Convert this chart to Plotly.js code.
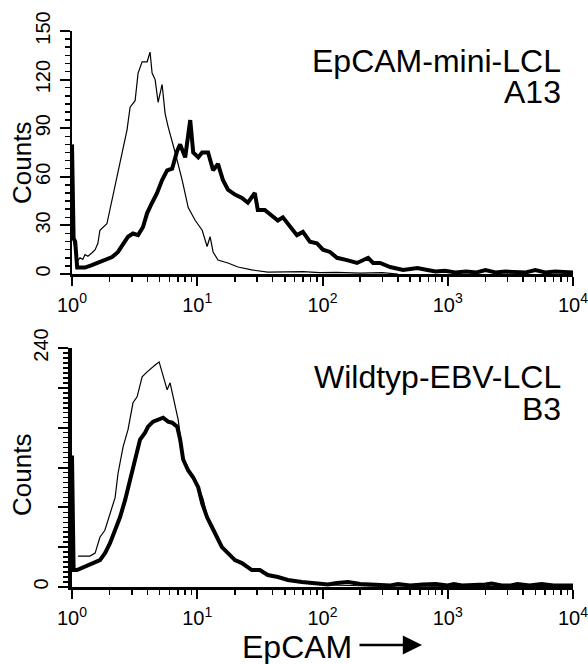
<!DOCTYPE html>
<html>
<head>
<meta charset="utf-8">
<script src="https://cdn.plot.ly/plotly-3.0.1.min.js"></script>
<style>
  html, body { margin: 0; padding: 0; background: #fff; }
  #chart { width: 588px; height: 664px; }
</style>
</head>
<body>
<div id="chart"></div>
<script>
// ---------- Data ----------
// Top panel: EpCAM-mini-LCL A13
const topCtrlX = [1.02, 1.10, 1.16, 1.22, 1.27, 1.34, 1.44, 1.53, 1.61, 1.67, 1.90, 2.09, 2.29, 2.51, 2.75, 2.91, 3.19, 3.37, 3.63, 3.98, 4.20, 4.36, 4.61, 4.87, 5.24, 5.54, 5.85, 6.66, 7.58, 8.47, 9.64, 10.95, 11.98, 12.66, 13.38, 14.64, 17.58, 21.13, 27.26, 36.57, 52.9, 70, 95, 130, 200, 300, 400];
const topCtrlY = [22, 8, 10, 9, 12, 11, 13, 15, 19, 27, 31, 46, 60, 75, 89, 103, 107, 124, 131, 131, 137, 124, 120, 106, 117, 99, 91, 75, 58, 41, 33, 27, 17, 23, 13.6, 8.6, 6.8, 4.3, 2.5, 1.2, 1.2, 1.5, 0.8, 1, 0.5, 0.8, 0];

const topEpX = [1.0, 1.03, 1.06, 1.10, 1.16, 1.27, 1.44, 1.61, 1.83, 2.09, 2.33, 2.56, 2.80, 3.07, 3.37, 3.69, 3.98, 4.36, 4.78, 5.24, 5.75, 6.30, 6.91, 7.30, 8.01, 8.79, 9.29, 10.19, 10.95, 12.20, 13.38, 14.64, 16.03, 17.58, 19.99, 22.73, 25.36, 28.81, 30.45, 34.60, 39.36, 44.01, 48.27, 54.92, 62.47, 69.73, 79.32, 90.21, 100.8, 114.7, 130.5, 156.9, 188.7, 231.3, 253.6, 288.4, 346.7, 440.6, 571.8, 688.3, 800, 950, 1150, 1400, 1700, 2000, 2400, 2900, 3500, 4200, 5000, 6000, 7200, 8500, 10000];
const topEpY = [80, 22, 20, 4, 4, 4, 5.5, 6.8, 8.6, 10.5, 13.6, 17.9, 23, 25, 24, 29, 37.6, 44, 50, 58, 64, 65, 76, 80, 72, 95, 75, 72, 75, 75, 64, 68, 58, 52, 49, 47, 44, 50, 39.5, 39.5, 36, 33, 35, 29, 24, 26, 20, 19, 15, 13.6, 10, 8.6, 6.8, 10, 6.8, 6.8, 4.3, 2.5, 3.7, 2.5, 1.5, 2, 1, 1.5, 1, 2.5, 1, 1.5, 1, 1, 2.5, 1, 1.5, 1, 1];

// Bottom panel: Wildtyp-EBV-LCL B3
const botCtrlX = [1.117, 1.27, 1.39, 1.53, 1.61, 1.67, 1.83, 2.01, 2.21, 2.33, 2.56, 2.80, 3.07, 3.31, 3.63, 3.98, 4.36, 4.61, 4.96, 5.34, 5.75, 6.07, 6.66, 7.04, 7.72, 8.47, 9.29, 10.19, 11.15, 12.0, 13.1, 14.4, 15.7, 17.6, 20.0, 23.2, 27.3, 31.6, 36.6, 44.0, 52.9, 68.5, 86.9, 110, 150, 250, 400, 700, 1500, 3000, 10000];
const botCtrlY = [31, 31, 31, 34, 44, 50, 57, 74, 90, 114, 141, 158, 185, 191, 211, 216, 221, 223, 226, 211, 198, 205, 181, 168, 130, 119, 112, 101, 88, 71, 61, 51, 41, 35, 28, 24, 18, 17, 12, 10, 7, 5, 4, 2, 1.5, 1, 1, 0.5, 0.5, 0.5, 0.5];

const botEpX = [1.0, 1.03, 1.096, 1.202, 1.342, 1.526, 1.673, 1.834, 2.011, 2.205, 2.417, 2.650, 2.906, 3.187, 3.494, 3.831, 4.049, 4.440, 4.868, 5.339, 5.854, 6.303, 6.913, 7.305, 7.720, 8.468, 9.288, 10.19, 10.95, 11.98, 13.13, 14.38, 15.73, 17.58, 19.99, 22.73, 27.26, 31.60, 36.57, 44.01, 52.90, 68.48, 86.91, 110.5, 130, 160, 200, 280, 350, 400, 500, 630, 800, 1000, 1120, 1300, 1600, 2000, 2240, 2700, 3200, 3600, 4500, 5600, 7000, 8500, 10000];
const botEpY = [132, 17, 17, 19, 22, 24, 27, 34, 44, 57, 70, 87, 107, 128, 148, 155, 161, 166, 168, 170, 166, 165, 161, 148, 128, 117, 110, 100, 84, 70, 60, 50, 40, 34, 27, 24, 17, 17, 12, 10, 7, 5, 4, 2.5, 4, 5, 3, 2, 1.5, 3, 1.5, 2.5, 3, 1.5, 3, 1.5, 1.5, 2.5, 3.5, 1.5, 1.5, 3, 1.5, 3, 1.5, 1.5, 1.5];

// Tick labels
const xTickVals = [1, 10, 100, 1000, 10000];
const xTickText = ['10<sup>0</sup>', '10<sup>1</sup>', '10<sup>2</sup>', '10<sup>3</sup>', '10<sup>4</sup>'];
const topYTickVals = [0, 30, 60, 90, 120, 150];
const topYTickText = ['0', '30', '60', '90', '120', '150'];
const botYTickVals = [0, 40, 80, 120, 160, 200, 240];
const botYTickText = ['0', '', '', '', '', '', '240'];

const panelTitles = ['EpCAM-mini-LCL', 'A13', 'Wildtyp-EBV-LCL', 'B3'];
const axisLabel = 'EpCAM';
const countsLabel = 'Counts';

// ---------- Styling ----------
const W = 588, H = 664;
const FONT = 'Liberation Sans, Arial, Helvetica, sans-serif';
const minorX = [];
for (let d = 1; d <= 1000; d *= 10) for (let m = 2; m <= 9; m++) minorX.push(m * d);

const px = v => v / W;            // pixel x -> paper
const py = v => (H - v) / H;      // pixel y (from top) -> paper

function xAxis(anchor, lw) {
  return {
    type: 'log', range: [0, 4], domain: [px(72), px(573)], anchor: anchor,
    showline: true, linecolor: '#000', linewidth: lw,
    showgrid: false, zeroline: false,
    ticks: 'outside', ticklen: 9, tickwidth: 2, tickcolor: '#000',
    tickmode: 'array', tickvals: xTickVals, ticktext: xTickText,
    tickfont: { family: FONT, size: 20, color: '#000' },
    ticklabelstandoff: 2, ticklabeloverflow: 'allow',
    minor: { tickmode: 'array', tickvals: minorX, ticks: 'outside', ticklen: 5, tickwidth: 1.5, tickcolor: '#000', showgrid: false },
    layer: 'above traces',
    fixedrange: true
  };
}
function yAxis(anchor, range, dom, tv, tt, lw, minorD) {
  return {
    range: range, domain: dom, anchor: anchor,
    showline: true, linecolor: '#000', linewidth: lw,
    showgrid: false, zeroline: false,
    ticks: 'outside', ticklen: 10, tickwidth: 2, tickcolor: '#000',
    tickmode: 'array', tickvals: tv, ticktext: tt, tickangle: -90,
    tickfont: { family: FONT, size: 20, color: '#000' },
    ticklabelstandoff: 2,
    minor: { dtick: minorD, ticks: 'outside', ticklen: 5, tickwidth: 1.5, tickcolor: '#000', showgrid: false },
    layer: 'above traces',
    fixedrange: true
  };
}

const traces = [
  { x: topCtrlX, y: topCtrlY, xaxis: 'x', yaxis: 'y', mode: 'lines', line: { color: '#000', width: 1.2 }, name: 'control A13' },
  { x: topEpX, y: topEpY, xaxis: 'x', yaxis: 'y', mode: 'lines', line: { color: '#000', width: 4 }, name: 'EpCAM A13' },
  { x: botCtrlX, y: botCtrlY, xaxis: 'x2', yaxis: 'y2', mode: 'lines', line: { color: '#000', width: 1.2 }, name: 'control B3' },
  { x: botEpX, y: botEpY, xaxis: 'x2', yaxis: 'y2', mode: 'lines', line: { color: '#000', width: 4 }, name: 'EpCAM B3' }
];

const annFont = { family: FONT, size: 32, color: '#000' };
const layout = {
  width: W, height: H,
  margin: { l: 0, r: 0, t: 0, b: 0 },
  paper_bgcolor: '#fff', plot_bgcolor: 'rgba(0,0,0,0)',
  showlegend: false,
  xaxis: xAxis('y', 2.5),
  yaxis: yAxis('x', [0, 150], [py(274), py(31)], topYTickVals, topYTickText, 2.5, 5),
  xaxis2: xAxis('y2', 3),
  yaxis2: yAxis('x2', [0, 240], [py(587), py(348)], botYTickVals, botYTickText, 4, 5),
  annotations: [
    { xref: 'paper', yref: 'paper', x: px(563), y: py(61), xanchor: 'right', yanchor: 'middle', text: panelTitles[0], showarrow: false, font: annFont },
    { xref: 'paper', yref: 'paper', x: px(563), y: py(92), xanchor: 'right', yanchor: 'middle', text: panelTitles[1], showarrow: false, font: annFont },
    { xref: 'paper', yref: 'paper', x: px(563), y: py(377), xanchor: 'right', yanchor: 'middle', text: panelTitles[2], showarrow: false, font: annFont },
    { xref: 'paper', yref: 'paper', x: px(563), y: py(409), xanchor: 'right', yanchor: 'middle', text: panelTitles[3], showarrow: false, font: annFont },
    { xref: 'paper', yref: 'paper', x: px(22), y: py(163), xanchor: 'center', yanchor: 'middle', text: countsLabel, textangle: -90, showarrow: false, font: { family: FONT, size: 26, color: '#000' } },
    { xref: 'paper', yref: 'paper', x: px(22), y: py(475), xanchor: 'center', yanchor: 'middle', text: countsLabel, textangle: -90, showarrow: false, font: { family: FONT, size: 26, color: '#000' } },
    { xref: 'paper', yref: 'paper', x: px(240), y: py(647), xanchor: 'left', yanchor: 'middle', text: axisLabel, showarrow: false, font: annFont },
    { xref: 'paper', yref: 'paper', x: px(422), y: py(645), ax: -64, ay: 0, axref: 'pixel', ayref: 'pixel', text: '', showarrow: true, arrowhead: 2, arrowsize: 1.6, arrowwidth: 2.4, arrowcolor: '#000' }
  ]
};

Plotly.newPlot('chart', traces, layout, { staticPlot: true, displayModeBar: false });
</script>
</body>
</html>
